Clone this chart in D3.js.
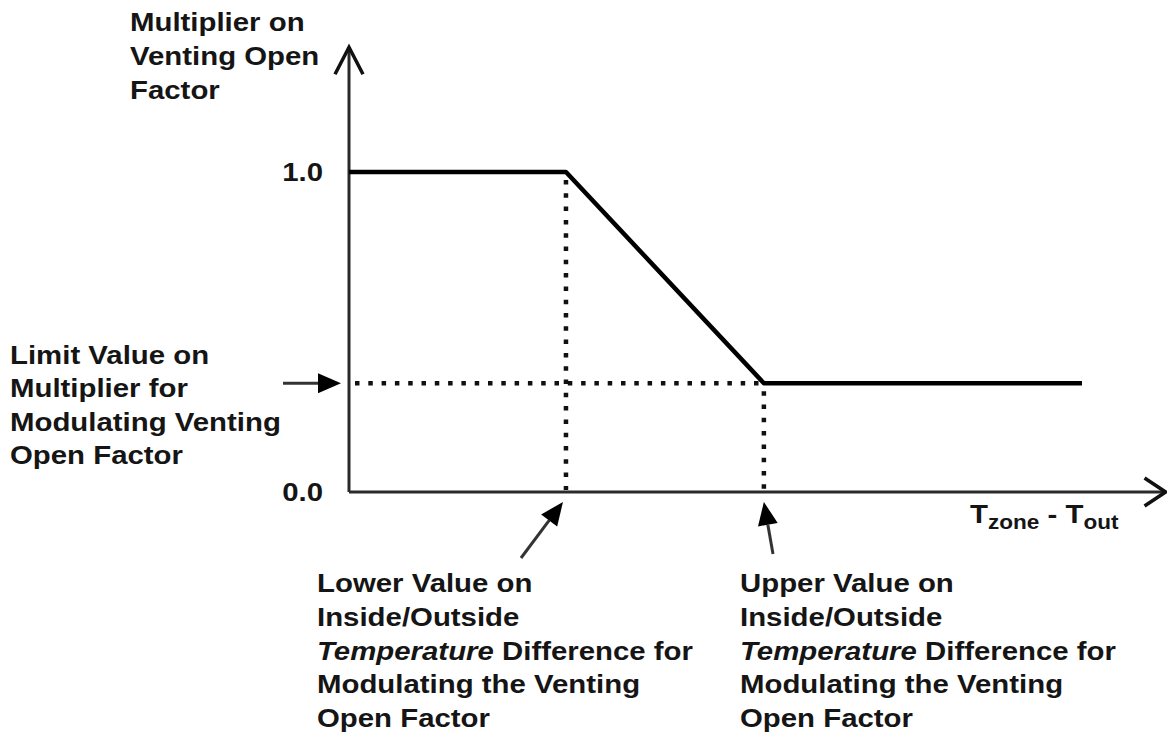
<!DOCTYPE html>
<html>
<head>
<meta charset="utf-8">
<script src="https://cdn.jsdelivr.net/npm/d3@7"></script>
<style>
  html, body { margin: 0; padding: 0; background: #fff; }
  svg { display: block; }
  text { font-family: "Liberation Sans", Arial, sans-serif; font-weight: bold; fill: #151515; }
</style>
</head>
<body>
<svg id="chart" width="1167" height="732"></svg>
<script>
// ---- data ----
const xDomain = [0, 100];                 // arbitrary T_zone - T_out units
const yDomain = [0, 1];
const lowerDiff = 29.6;                   // lower value on inside/outside temp difference
const upperDiff = 56.6;                   // upper value on inside/outside temp difference
const limitValue = 0.34;                  // limit value on multiplier
const curveX = [0, 29.6, 56.6, 100];
const curveY = [1.0, 1.0, 0.34, 0.34];
const yTickValues = [0.0, 1.0];
const yTickLabels = ["0.0", "1.0"];
const xAxisExtent = 111.4;                // axis arrow reach (data units)
const yAxisExtent = 1.39;

const yTitleLines = ["Multiplier on", "Venting Open", "Factor"];
const limitLabelLines = ["Limit Value on", "Multiplier for", "Modulating Venting", "Open Factor"];
const lowerLabelLines = ["Lower Value on", "Inside/Outside", "*Temperature* Difference for", "Modulating the Venting", "Open Factor"];
const upperLabelLines = ["Upper Value on", "Inside/Outside", "*Temperature* Difference for", "Modulating the Venting", "Open Factor"];
const xTitleParts = [["T", false], ["zone", true], [" - ", false], ["T", false], ["out", true]];

// ---- layout ----
const svg = d3.select("#chart");
const x = d3.scaleLinear().domain(xDomain).range([349, 1082]);
const y = d3.scaleLinear().domain(yDomain).range([492, 172]);
const FS = 26;
const SX = 1.13;   // horizontal stretch of the reference lettering

// axes
const axisColor = "#2a2a2a";
svg.append("line").attr("x1", x(0)).attr("y1", y(0)).attr("x2", x(xAxisExtent)).attr("y2", y(0))
  .attr("stroke", axisColor).attr("stroke-width", 3);
svg.append("line").attr("x1", x(0)).attr("y1", y(0)).attr("x2", x(0)).attr("y2", y(yAxisExtent))
  .attr("stroke", axisColor).attr("stroke-width", 3);
// open chevron arrowheads
const yTip = [x(0), y(yAxisExtent)];
svg.append("path").attr("d", `M${yTip[0]-14},${yTip[1]+27}L${yTip[0]},${yTip[1]}L${yTip[0]+14},${yTip[1]+27}`)
  .attr("fill", "none").attr("stroke", "#111").attr("stroke-width", 3.5);
const xTip = [x(xAxisExtent), y(0)];
svg.append("path").attr("d", `M${xTip[0]-21},${xTip[1]-14}L${xTip[0]},${xTip[1]}L${xTip[0]-21},${xTip[1]+14}`)
  .attr("fill", "none").attr("stroke", "#111").attr("stroke-width", 3.5);

// y tick labels
svg.selectAll("g.ytick").data(yTickValues).join("g")
  .attr("class", "ytick")
  .attr("transform", d => `translate(323,${y(d)}) scale(${SX},1)`)
  .append("text")
  .attr("dy", "0.36em")
  .attr("text-anchor", "end").attr("font-size", FS)
  .text((d, i) => yTickLabels[i]);

// dotted guides
function dotted(x1, y1, x2, y2) {
  svg.append("line").attr("x1", x1).attr("y1", y1).attr("x2", x2).attr("y2", y2)
    .attr("stroke", "#111").attr("stroke-width", 4.5).attr("stroke-dasharray", "4.5 8.8");
}
dotted(x(0) + 6, y(limitValue), x(upperDiff), y(limitValue));
dotted(x(lowerDiff), y(1) + 8, x(lowerDiff), y(0) - 2);
dotted(x(upperDiff), y(limitValue) + 8, x(upperDiff), y(0) - 2);

// main curve
const pts = curveX.map((d, i) => [d, curveY[i]]);
svg.append("path").datum(pts)
  .attr("d", d3.line().x(d => x(d[0])).y(d => y(d[1])))
  .attr("fill", "none").attr("stroke", "#000").attr("stroke-width", 4.5)
  .attr("stroke-linejoin", "round");

// filled-head annotation arrows
function arrow(x1, y1, x2, y2, headLen, headHalf) {
  const a = Math.atan2(y2 - y1, x2 - x1);
  const bx = x2 - headLen * Math.cos(a), by = y2 - headLen * Math.sin(a);
  svg.append("line").attr("x1", x1).attr("y1", y1).attr("x2", bx).attr("y2", by)
    .attr("stroke", "#333").attr("stroke-width", 3);
  const px = -Math.sin(a) * headHalf, py = Math.cos(a) * headHalf;
  svg.append("path").attr("d", `M${x2},${y2}L${bx+px},${by+py}L${bx-px},${by-py}Z`).attr("fill", "#000");
}
arrow(283, y(limitValue), x(0) - 8, y(limitValue), 23, 10);
arrow(521, 558, x(lowerDiff) - 3, 502, 23, 10);
arrow(773, 554, x(upperDiff), 502, 23, 10);

// multi-line labels
function label(lines, x0, y0, lh) {
  const t = svg.append("g").attr("transform", `translate(${x0},${y0}) scale(${SX},1)`)
    .append("text").attr("font-size", FS);
  lines.forEach((ln, i) => {
    const parts = ln.split("*");
    let first = true;
    parts.forEach((p, j) => {
      if (!p) return;
      const ts = t.append("tspan").text(p);
      if (first) { ts.attr("x", 0).attr("y", i * lh); first = false; }
      if (j % 2 === 1) ts.attr("font-style", "italic");
    });
  });
}
label(yTitleLines, 130, 31, 34);
label(limitLabelLines, 10, 364, 33.3);
label(lowerLabelLines, 317, 592, 33.8);
label(upperLabelLines, 740, 592, 33.8);

// x axis title
const xt = svg.append("g").attr("transform", `translate(970,523) scale(${SX},1)`)
  .append("text").attr("font-size", FS);
xTitleParts.forEach(([s, sub]) => {
  const ts = xt.append("tspan").text(s);
  if (sub) ts.attr("font-size", 20).attr("y", 6);
  else ts.attr("y", 0);
});
</script>
</body>
</html>
